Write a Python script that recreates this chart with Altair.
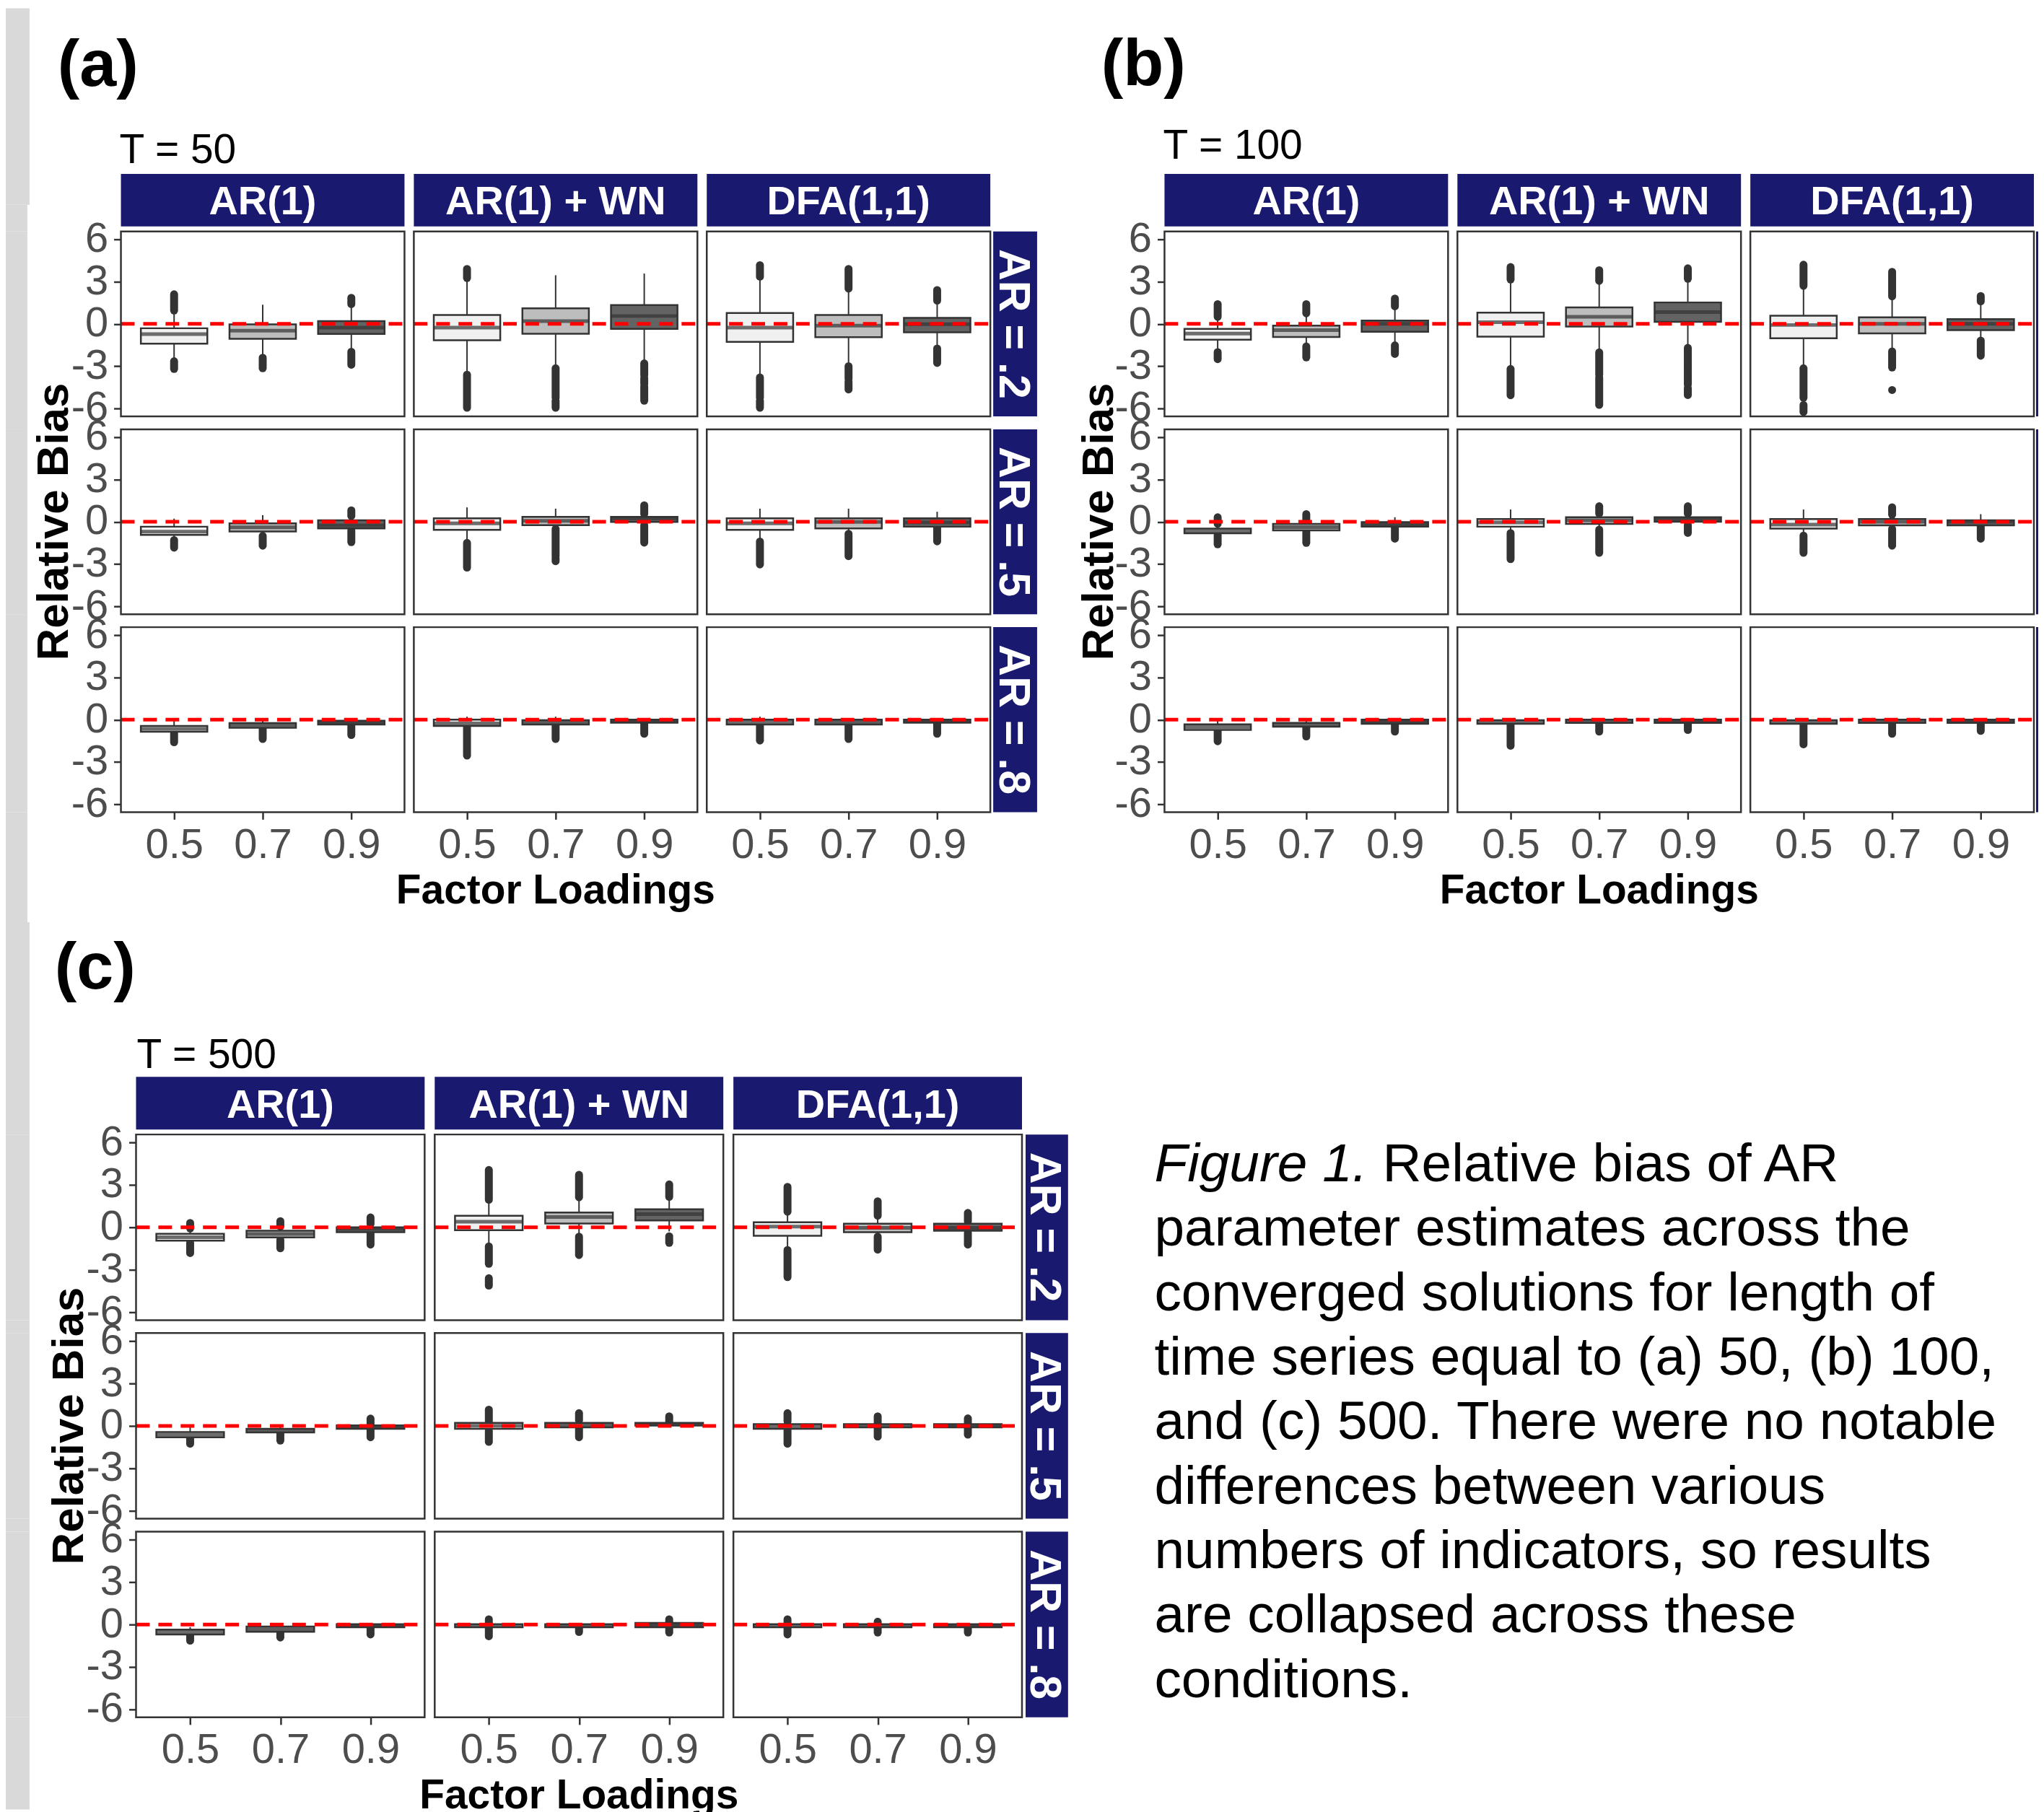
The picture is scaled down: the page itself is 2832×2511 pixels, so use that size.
import altair as alt
import pandas as pd

# ---------------- categories / labels ----------------
ROWS = ["AR = .2", "AR = .5", "AR = .8"]
COLS = ["AR(1)", "AR(1) + WN", "DFA(1,1)"]
LOADS = ["0.5", "0.7", "0.9"]
FILLS = ["#f0f0f0", "#bdbdbd", "#636363"]
Y_TICKS = [-6, -3, 0, 3, 6]
PANEL_TAGS = ["(a)", "(b)", "(c)"]
T_LABELS = ["T = 50", "T = 100", "T = 500"]
Y_TITLE = "Relative Bias"
X_TITLE = "Factor Loadings"
CAPTION_LEAD = "Figure 1."
CAPTION_FIRST = "Relative bias of AR"
CAPTION_LINES = [
    "parameter estimates across the",
    "converged solutions for length of",
    "time series equal to (a) 50, (b) 100,",
    "and (c) 500. There were no notable",
    "differences between various",
    "numbers of indicators, so results",
    "are collapsed across these",
    "conditions.",
]

# order of the 27 boxes: row (AR=.2,.5,.8) -> model (AR(1), AR(1)+WN, DFA) -> loading (.5,.7,.9)
# ---------------- panel (a): T = 50 ----------------
A_LO = [-2.60, -2.38, -1.95, -3.57, -3.11, -2.77, -3.79, -2.98, -1.70,
        -1.20, -0.93, -0.55, -1.48, -0.47, -0.20, -1.39, -0.84, -0.38,
        -0.91, -0.64, -0.40, -0.50, -0.35, -0.22, -0.35, -0.35, -0.22]
A_Q1 = [-1.41, -1.06, -0.71, -1.16, -0.70, -0.36, -1.28, -0.94, -0.60,
        -0.93, -0.69, -0.47, -0.57, -0.24, -0.01, -0.57, -0.47, -0.35,
        -0.86, -0.58, -0.35, -0.45, -0.35, -0.22, -0.35, -0.35, -0.22]
A_MED = [-0.73, -0.48, -0.26, -0.26, 0.20, 0.56, -0.26, -0.12, -0.02,
         -0.70, -0.40, -0.26, -0.11, 0.07, 0.22, -0.11, -0.01, -0.05,
         -0.65, -0.40, -0.17, -0.27, -0.17, -0.12, -0.17, -0.17, -0.10]
A_Q3 = [-0.31, -0.03, 0.19, 0.63, 1.10, 1.34, 0.77, 0.63, 0.43,
        -0.35, -0.11, 0.11, 0.24, 0.35, 0.35, 0.24, 0.24, 0.24,
        -0.45, -0.24, -0.08, 0.00, -0.04, 0.00, 0.00, 0.00, 0.00]
A_HI = [0.90, 1.36, 1.36, 3.23, 3.45, 3.57, 3.32, 2.47, 1.62,
        0.22, 0.47, 0.35, 1.02, 0.93, 0.53, 0.93, 0.93, 0.71,
        -0.08, 0.00, 0.03, 0.21, 0.21, 0.10, 0.21, 0.10, 0.10]
A_OUT = [(0, 0.95, 2.10), (0, -2.65, -3.20), (1, -2.40, -3.15), (2, 1.40, 1.85), (2, -1.98, -2.90),
         (3, 3.25, 3.90), (3, -3.60, -5.95), (4, -3.15, -5.25), (4, -5.45, -5.95),
         (5, -2.80, -3.65), (5, -3.85, -4.25), (5, -4.45, -5.45),
         (6, 3.35, 4.17), (6, -3.80, -5.25), (6, -5.45, -5.95),
         (7, 2.50, 3.90), (7, -3.00, -3.90), (7, -4.10, -4.65),
         (8, 1.65, 2.40), (8, -1.75, -2.77),
         (9, -1.30, -1.84), (10, -1.00, -1.70), (11, 0.40, 0.81), (11, -0.60, -1.45),
         (12, -1.50, -3.25), (13, -0.50, -2.45), (13, -2.60, -2.80), (14, 0.55, 1.17), (14, -0.25, -1.48),
         (15, -1.40, -3.03), (16, -0.85, -2.44), (17, -0.40, -1.39),
         (18, -0.95, -1.60), (19, -0.65, -1.37), (20, -0.42, -1.09),
         (21, -0.55, -2.55), (22, -0.38, -1.37), (23, -0.25, -1.00),
         (24, -0.38, -1.48), (25, -0.38, -1.37), (26, -0.25, -1.00)]

# ---------------- panel (b): T = 100 ----------------
B_LO = [-1.92, -1.58, -1.49, -3.19, -2.00, -1.66, -3.11, -1.92, -1.15,
        -0.91, -0.70, -0.40, -0.76, -0.54, -0.20, -0.95, -0.48, -0.30,
        -0.73, -0.50, -0.30, -0.30, -0.23, -0.23, -0.30, -0.23, -0.23]
B_Q1 = [-1.12, -0.93, -0.56, -0.90, -0.19, 0.15, -1.02, -0.68, -0.44,
        -0.82, -0.61, -0.35, -0.35, -0.15, 0.00, -0.48, -0.26, -0.26,
        -0.73, -0.50, -0.30, -0.30, -0.23, -0.23, -0.30, -0.23, -0.23]
B_MED = [-0.69, -0.44, 0.00, 0.12, 0.50, 0.83, -0.08, 0.00, 0.00,
         -0.65, -0.38, -0.18, -0.05, 0.10, 0.15, -0.20, 0.00, 0.00,
         -0.53, -0.36, -0.15, -0.17, -0.10, -0.10, -0.17, -0.10, -0.10]
B_Q3 = [-0.36, -0.13, 0.24, 0.80, 1.17, 1.52, 0.58, 0.46, 0.34,
        -0.48, -0.15, -0.02, 0.20, 0.32, 0.32, 0.20, 0.20, 0.10,
        -0.33, -0.23, 0.00, -0.04, 0.00, 0.00, -0.04, 0.00, 0.00]
B_HI = [0.46, 0.71, 1.22, 3.10, 3.01, 3.18, 2.67, 1.91, 1.55,
        -0.20, 0.00, 0.32, 0.87, 0.54, 0.54, 0.87, 0.45, 0.54,
        -0.04, 0.00, 0.05, 0.05, 0.05, 0.05, 0.05, 0.05, 0.05]
B_OUT = [(0, 0.50, 1.40), (0, -2.00, -2.50), (1, 0.75, 1.40), (1, -1.60, -2.38), (2, 1.25, 1.80), (2, -1.52, -2.13),
         (3, 3.15, 4.03), (3, -3.20, -5.06), (4, 3.05, 3.81), (4, -2.02, -3.60), (4, -3.80, -5.75),
         (5, 3.20, 3.94), (5, -1.70, -3.20), (5, -3.30, -4.30), (5, -4.55, -5.05),
         (6, 2.70, 4.20), (6, -3.15, -5.25), (6, -5.75, -6.25),
         (7, 1.95, 3.69), (7, -1.95, -3.10), (7, -4.69, -4.69),
         (8, 1.60, 1.98), (8, -1.18, -2.26),
         (9, -0.15, 0.32), (9, -0.95, -1.60), (10, 0.05, 0.54), (10, -0.72, -1.50), (11, -0.42, -1.20),
         (12, -0.80, -2.65), (13, 0.58, 1.10), (13, -0.56, -2.20), (14, 0.58, 1.10), (14, -0.22, -0.79),
         (15, -0.98, -2.20), (16, 0.50, 1.03), (16, -0.50, -1.70), (17, -0.32, -1.20),
         (18, -0.76, -1.53), (19, -0.53, -1.19), (20, -0.33, -0.85),
         (21, -0.33, -1.85), (22, -0.26, -0.85), (23, -0.26, -0.73),
         (24, -0.33, -1.75), (25, -0.26, -1.00), (26, -0.26, -0.80)]

# ---------------- panel (c): T = 500 ----------------
C_LO = [-1.05, -0.80, -0.37, -1.31, -0.63, -0.29, -1.56, -0.63, -0.29,
        -0.85, -0.47, -0.20, -0.30, -0.20, 0.00, -0.22, -0.10, -0.10,
        -0.70, -0.51, -0.20, -0.20, -0.20, -0.20, -0.20, -0.20, -0.20]
C_Q1 = [-0.94, -0.71, -0.34, -0.20, 0.27, 0.48, -0.60, -0.34, -0.24,
        -0.80, -0.46, -0.20, -0.20, -0.10, 0.03, -0.20, -0.10, -0.10,
        -0.70, -0.51, -0.20, -0.20, -0.20, -0.20, -0.20, -0.20, -0.20]
C_MED = [-0.70, -0.47, -0.12, 0.39, 0.73, 0.93, 0.05, -0.04, -0.04,
         -0.62, -0.33, -0.08, 0.01, 0.06, 0.12, -0.03, 0.02, 0.02,
         -0.53, -0.33, -0.09, -0.09, -0.09, -0.05, -0.09, -0.09, -0.09]
C_Q3 = [-0.46, -0.24, 0.00, 0.82, 1.04, 1.28, 0.36, 0.26, 0.26,
        -0.43, -0.20, 0.04, 0.22, 0.22, 0.22, 0.13, 0.13, 0.13,
        -0.36, -0.14, 0.02, 0.02, 0.02, 0.11, 0.02, 0.02, 0.02]
C_HI = [-0.12, 0.02, 0.20, 1.92, 2.09, 2.10, 1.07, 0.78, 0.39,
        -0.06, 0.00, 0.10, 0.30, 0.35, 0.22, 0.30, 0.13, 0.13,
        -0.18, -0.05, 0.05, 0.05, 0.05, 0.11, 0.05, 0.05, 0.05]
C_OUT = [(0, -0.08, 0.31), (0, -1.08, -1.82), (1, 0.06, 0.44), (1, -0.88, -1.48), (2, 0.24, 0.70), (2, -0.40, -1.22),
         (3, 1.95, 4.05), (3, -1.35, -2.58), (3, -3.60, -4.12), (4, 2.12, 3.71), (4, -0.66, -1.96),
         (5, 2.15, 3.03), (5, -0.63, -1.10),
         (6, 1.10, 2.86), (6, -1.60, -3.52), (7, 0.82, 1.84), (7, -0.66, -1.58), (8, 0.42, 1.02), (8, -0.37, -1.22),
         (9, -0.88, -1.26), (10, -0.50, -1.04), (11, 0.12, 0.52), (11, -0.22, -0.80),
         (12, 0.32, 1.15), (12, -0.35, -1.13), (13, 0.40, 0.90), (13, -0.22, -0.80), (14, 0.25, 0.68),
         (15, 0.32, 0.90), (15, -0.25, -1.26), (16, 0.15, 0.68), (16, -0.12, -0.76), (17, 0.15, 0.53), (17, -0.12, -0.62),
         (18, -0.73, -1.14), (19, -0.54, -0.92), (20, -0.22, -0.70),
         (21, 0.08, 0.37), (21, -0.22, -0.83), (22, -0.22, -0.53), (23, 0.14, 0.37), (23, -0.22, -0.57),
         (24, 0.05, 0.37), (24, -0.22, -0.70), (25, 0.05, 0.20), (25, -0.22, -0.57), (26, -0.22, -0.57)]

# ---------------- styling ----------------
SANS = "Liberation Sans, Arial, Helvetica, sans-serif"
NAVY = "#191970"
DARK = "#333333"
GRAY_BAND = "#d9d9d9"
YS = alt.Scale(domain=[-6.56, 6.56], nice=False, zero=False)
ONE = pd.DataFrame({"k": [0]})

# grid layout: one column structure for every row
COL_W = [160, 394, 13, 394, 13, 394, 242, 394, 13, 394, 13, 394]
ROW_H = [310, 257, 18, 257, 18, 257, 153, 295, 258, 18, 258, 18, 258, 120]
C_W = 401
C_OX = [21, 29, 37]  # panel (c) plot areas sit a little right of panel (a)'s columns


def d_rect(x1, x2, y1, y2, color, **kw):
    return alt.Chart(ONE).mark_rect(color=color, **kw).encode(
        x=alt.value(x1), x2=alt.value(x2), y=alt.value(y1), y2=alt.value(y2))


def d_text(x, y, text, **kw):
    return alt.Chart(ONE).mark_text(**kw).encode(x=alt.value(x), y=alt.value(y), text=alt.value(text))


def spacer(w, h, decos=None):
    layers = decos if decos else [d_rect(0, 1, 0, 1, "white", opacity=0)]
    return alt.layer(*layers).properties(width=w, height=h)


def cell(P, r, c, W, H, colw, ox, show_x, show_y, decos):
    lo, q1, med, q3, hi, outs = P
    brec = []
    for l in range(3):
        i = r * 9 + c * 3 + l
        brec.append(dict(L=LOADS[l], lo=lo[i], q1=q1[i], med=med[i], q3=q3[i], hi=hi[i]))
    orec = [dict(L=LOADS[i % 3], a=a, b=b) for (i, a, b) in outs if i // 3 == r * 3 + c]
    bdf = pd.DataFrame(brec)
    xax = alt.Axis(title=None, labelAngle=0) if show_x else None
    yax = alt.Axis(title=None, values=Y_TICKS, labelExpr="'' + datum.value", offset=-ox) if show_y else None
    X = alt.X("L:N", scale=alt.Scale(type="point", padding=0.6, domain=LOADS, range=[ox, ox + W]), axis=xax)
    bw = 0.75 * W / 3.2
    layers = [alt.Chart(bdf).mark_rule(color=DARK, strokeWidth=2).encode(
        x=X, y=alt.Y("lo:Q", scale=YS, axis=yax), y2="hi:Q")]
    if orec:
        layers.append(alt.Chart(pd.DataFrame(orec)).mark_rule(color=DARK, strokeWidth=11, strokeCap="round").encode(
            x=X, y=alt.Y("a:Q", scale=YS, axis=yax), y2="b:Q"))
    layers.append(alt.Chart(bdf).mark_bar(size=bw, stroke=DARK, strokeWidth=2.5).encode(
        x=X, y=alt.Y("q1:Q", scale=YS, axis=yax), y2="q3:Q",
        fill=alt.Fill("L:N", scale=alt.Scale(domain=LOADS, range=FILLS), legend=None)))
    layers.append(alt.Chart(bdf).mark_tick(size=bw, thickness=5, color=DARK).encode(
        x=X, y=alt.Y("med:Q", scale=YS, axis=yax)))
    layers.append(alt.Chart(ONE).mark_rule(color="#ff0000", strokeWidth=5, strokeDash=[19, 12]).encode(
        y=alt.Y(datum=0, scale=YS, axis=yax), x=alt.value(ox), x2=alt.value(ox + W)))
    layers.append(alt.Chart(ONE).mark_rect(filled=False, stroke=DARK, strokeWidth=2.5).encode(
        x=alt.value(ox), x2=alt.value(ox + W), y=alt.value(0), y2=alt.value(H)))
    layers += decos
    return alt.layer(*layers).properties(width=colw, height=H)


PANELS = [
    (A_LO, A_Q1, A_MED, A_Q3, A_HI, A_OUT),
    (B_LO, B_Q1, B_MED, B_Q3, B_HI, B_OUT),
    (C_LO, C_Q1, C_MED, C_Q3, C_HI, C_OUT),
]
# annotation geometry per panel, relative to its top-left plot area
GEO = [
    dict(tag=(-88, -202), t=(-2, -95), ytitle=-93, rstrip=(4, 65)),
    dict(tag=(-88, -203), t=(-2, -101), ytitle=-91, rstrip=(3, 6)),
    dict(tag=(-113, -203), t=(1, -92), ytitle=-93, rstrip=(5, 64)),
]


def panel_decos(p, r, c, W, H, ox):
    g = GEO[p]
    d = []
    if r == 0:
        d.append(d_rect(ox, ox + W, -80, -7, NAVY))
        d.append(d_text(ox + W / 2, -40.5, COLS[c], color="white", font=SANS, fontWeight="bold",
                        fontSize=56, align="center", baseline="middle"))
    if c == 2:
        rs0, rs1 = g["rstrip"]
        d.append(d_rect(ox + W + rs0, ox + W + rs1, 0, H, NAVY))
        if rs1 - rs0 > 20:
            d.append(d_text(ox + W + (rs0 + rs1) / 2 - 4, H / 2, ROWS[r], color="white", font=SANS,
                            fontWeight="bold", fontSize=61, angle=90, align="center", baseline="middle"))
    if r == 0 and c == 0:
        d.append(d_text(ox + g["tag"][0], g["tag"][1], PANEL_TAGS[p], color="black", font=SANS,
                        fontWeight="bold", fontSize=92, align="left", baseline="alphabetic"))
        d.append(d_text(ox + g["t"][0], g["t"][1], T_LABELS[p], color="black", font=SANS,
                        fontSize=57, align="left", baseline="alphabetic"))
    if r == 1 and c == 0:
        d.append(d_text(ox + g["ytitle"], H / 2, Y_TITLE, color="black", font=SANS, fontWeight="bold",
                        fontSize=62, angle=270, align="center", baseline="middle"))
    if r == 2 and c == 1:
        d.append(d_text(ox + W / 2, H + 127, X_TITLE, color="black", font=SANS, fontWeight="bold",
                        fontSize=57, align="center", baseline="alphabetic"))
    return d


def caption_decos():
    ts = dict(color="black", font=SANS, fontSize=75, align="left", baseline="alphabetic")
    return [
        d_text(228, 360, CAPTION_LEAD, fontStyle="italic", **ts),
        d_text(545, 360, CAPTION_FIRST, **ts),
        d_text(228, 449.6, "\n".join(CAPTION_LINES), lineBreak="\n", lineHeight=89.6, **ts),
    ]


items = []
last = len(ROW_H) - 1
for ri, h in enumerate(ROW_H):
    top = ri <= 6
    for ci, w in enumerate(COL_W):
        if ci == 0:
            if ri == 0:
                decos = [d_rect(0, 33, 0, 273, GRAY_BAND), d_rect(0, 30, 273, h, GRAY_BAND)]
            elif top:
                decos = [d_rect(0, 30, 0, h, GRAY_BAND)]
            else:
                decos = [d_rect(0, 33, 0, h + (8 if ri == last else 0), GRAY_BAND)]
            items.append(spacer(w, h, decos))
            continue
        if top and ri in (1, 3, 5) and ci in (1, 3, 5, 7, 9, 11):
            r = (ri - 1) // 2
            p = 0 if ci <= 5 else 1
            c = (ci - 1) // 2 if p == 0 else (ci - 7) // 2
            items.append(cell(PANELS[p], r, c, w, h, w, 0, r == 2, c == 0, panel_decos(p, r, c, w, h, 0)))
            continue
        if (not top) and ri in (8, 10, 12) and ci in (1, 3, 5):
            r = (ri - 8) // 2
            c = (ci - 1) // 2
            ox = C_OX[c]
            items.append(cell(PANELS[2], r, c, C_W, h, w, ox, r == 2, c == 0, panel_decos(2, r, c, C_W, h, ox)))
            continue
        if ri == 7 and ci == 6:
            items.append(spacer(w, h, caption_decos()))
            continue
        items.append(spacer(w, h))

chart = alt.concat(
    *items, columns=len(COL_W), spacing=0, bounds="flush"
).resolve_scale(x="independent", y="independent", fill="independent").properties(
    padding=0, background="white"
).configure_view(stroke=None).configure_axis(
    labelFont=SANS, labelFontSize=58, labelColor="#4d4d4d", tickColor=DARK, tickSize=10,
    tickWidth=2.5, domain=False, grid=False, labelPadding=7, labelOverlap=False,
).configure_axisY(labelPadding=8)

chart.save("out.html", embed_options={"renderer": "svg", "actions": False})
